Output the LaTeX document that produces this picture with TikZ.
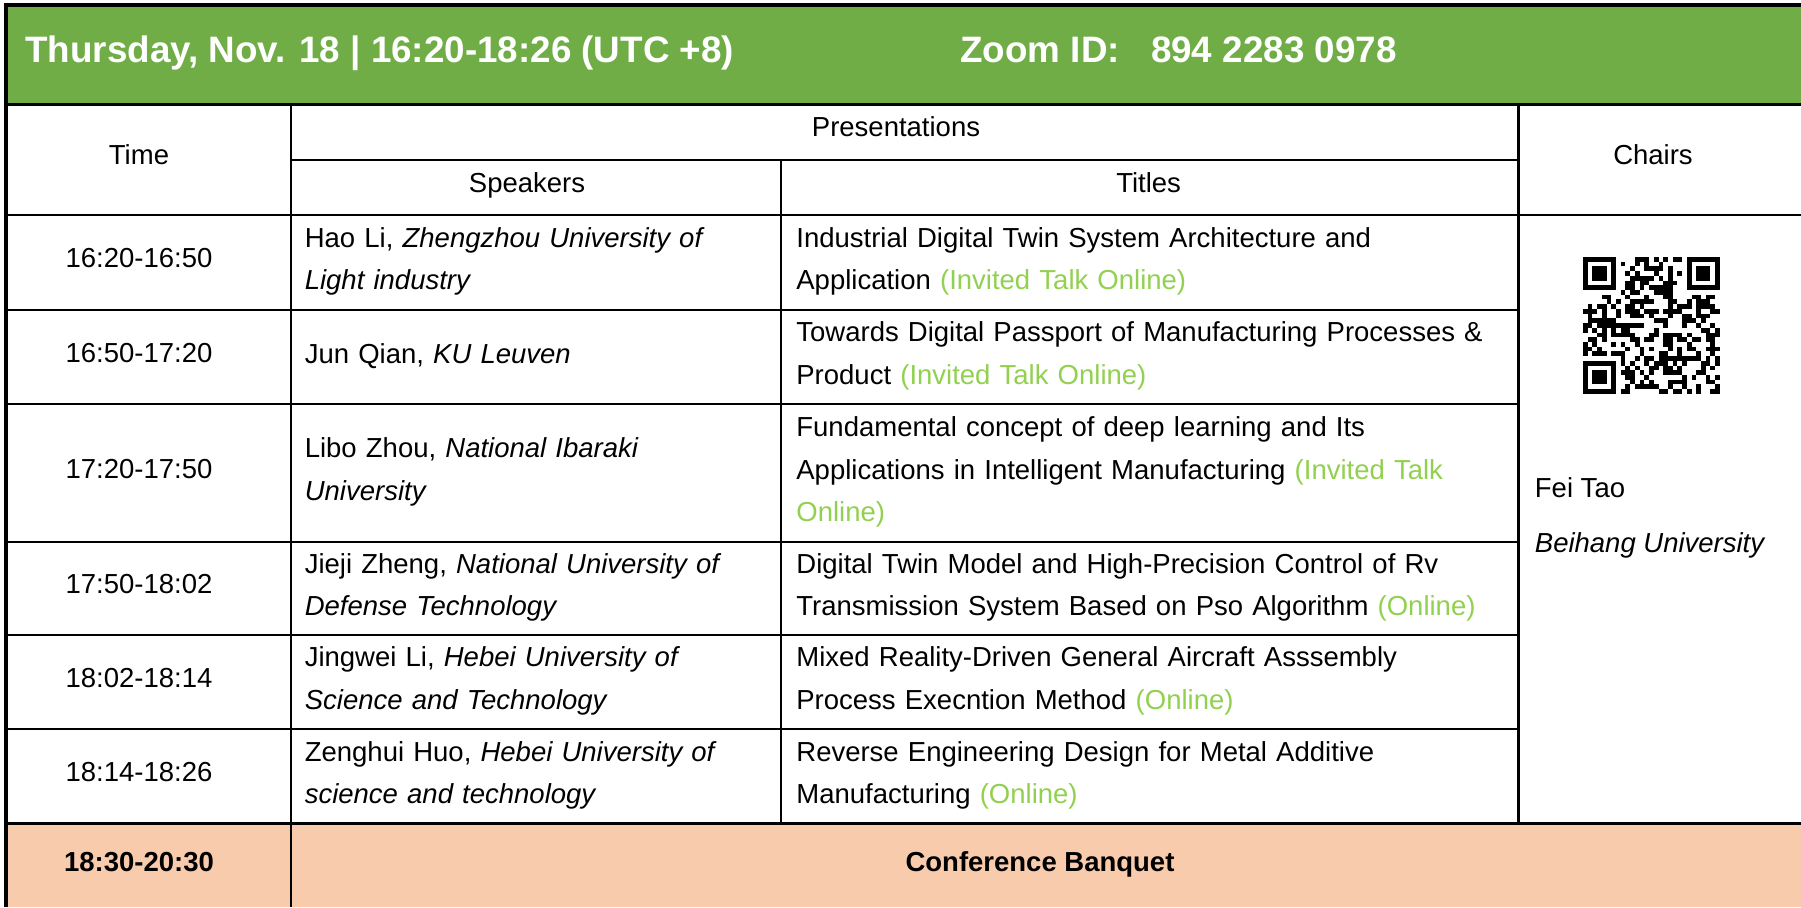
\documentclass[tikz,border=0pt]{standalone}
\usepackage{fontspec}
\setmainfont{Liberation Sans}
\usepackage{xcolor}
\usepackage{tikz}
\usetikzlibrary{positioning, calc}
\definecolor{headgreen}{HTML}{70AD47}
\definecolor{banquet}{HTML}{F8CBAD}
\definecolor{onlinegreen}{HTML}{92D050}
\newcommand{\cellfont}{\fontsize{13.75}{21.25}\selectfont}
\newcommand{\headfont}{\fontsize{18.4}{22}\selectfont\bfseries}
\newcommand{\onl}[1]{\textcolor{onlinegreen}{#1}}
\tikzset{tableframe/.style={line width=1.6pt}}
\tikzset{tablerule/.style={line width=1.1pt}}
\tikzset{cell/.style={font=\cellfont, inner sep=0pt}}
\tikzset{slot/.style={cell, anchor=base}}
\tikzset{speaker/.style={cell, anchor=base west, align=left, text width=235pt}}
\tikzset{talk/.style={cell, anchor=base west, align=left, text width=360pt}}
\tikzset{banner/.style={font=\headfont, text=white, inner sep=0pt, anchor=base west}}

\begin{document}
\begin{tikzpicture}[x=0.5pt, y=-0.5pt]
  \useasboundingbox (0,0) rectangle (1801,907);
  % Fills
  \fill[headgreen] (6,5) rectangle (1801,104.5);
  \fill[banquet] (6,823.5) rectangle (1801,907);
  % Rules
  \draw[tablerule] (290.6,159.7) -- (1518.5,159.7);
  \draw[tablerule] (6,215) -- (1801,215);
  \foreach \y in {310,404,542,635,729}
    \draw[tablerule] (6,\y) -- (1518.5,\y);
  \draw[tablerule] (6,823.5) -- (1801,823.5);
  \draw[tablerule] (290.6,104.5) -- (290.6,907);
  \draw[tablerule] (781,159.7) -- (781,823.5);
  \draw[tablerule] (1518.5,104.5) -- (1518.5,823.5);
  \draw[tableframe] (6,907) -- (6,5) -- (1801,5);
  \draw[tableframe] (6,104.5) -- (1801,104.5);

  % Header
  \node[banner] (day) at (25,62.5) {Thursday, Nov. 18 | 16:20-18:26 (UTC +8)};
  \node[banner] (zoom) at (960,62.5) {Zoom ID: \hspace{0.57em}894 2283 0978};
  \node[slot] (time) at (139,164) {Time};
  \node[slot] (pres) at (896,136) {Presentations};
  \node[slot] (spk) at (527,192.5) {Speakers};
  \node[slot] (ttl) at (1148.6,192.5) {Titles};
  \node[slot] (chair) at (1653,164) {Chairs};

  % Times
  \node[slot] (t1) at (139,267.5) {16:20-16:50};
  \node[slot] (t2) at (139,362) {16:50-17:20};
  \node[slot] (t3) at (139,478) {17:20-17:50};
  \node[slot] (t4) at (139,593.5) {17:50-18:02};
  \node[slot] (t5) at (139,687) {18:02-18:14};
  \node[slot] (t6) at (139,781.25) {18:14-18:26};

  % Speakers
  \node[speaker] (s1) at (304.4,247.25) {Hao Li, \textit{Zhengzhou University of}\\\textit{Light industry}};
  \node[speaker] (s2) at (304.4,363) {Jun Qian, \textit{KU Leuven}};
  \node[speaker] (s3) at (304.4,457.75) {Libo Zhou, \textit{National Ibaraki}\\\textit{University}};
  \node[speaker] (s4) at (304.4,573.25) {Jieji Zheng, \textit{National University of}\\\textit{Defense Technology}};
  \node[speaker] (s5) at (304.4,666.75) {Jingwei Li, \textit{Hebei University of}\\\textit{Science and Technology}};
  \node[speaker] (s6) at (304.4,761) {Zenghui Huo, \textit{Hebei University of}\\\textit{science and technology}};

  % Titles
  \node[talk] (p1) at (796,247.25) {Industrial Digital Twin System Architecture and\\Application \onl{(Invited Talk Online)}};
  \node[talk] (p2) at (796,341.75) {Towards Digital Passport of Manufacturing Processes \&\\Product \onl{(Invited Talk Online)}};
  \node[talk] (p3) at (796,436.5) {Fundamental concept of deep learning and Its\\Applications in Intelligent Manufacturing \onl{(Invited Talk}\\\onl{Online)}};
  \node[talk] (p4) at (796,573.25) {Digital Twin Model and High-Precision Control of Rv\\Transmission System Based on Pso Algorithm \onl{(Online)}};
  \node[talk] (p5) at (796,666.75) {Mixed Reality-Driven General Aircraft Asssembly\\Process Execntion Method \onl{(Online)}};
  \node[talk] (p6) at (796,761) {Reverse Engineering Design for Metal Additive\\Manufacturing \onl{(Online)}};

  % Chair
  \begin{scope}[shift={(1583,257)}]
    \pgfmathsetseed{2021}
    \foreach \i in {0,...,28} {
      \foreach \j in {0,...,28} {
        \pgfmathrandominteger{\bit}{0}{9}
        \pgfmathtruncatemacro{\keep}{((\i<8 && \j<8) || (\i>20 && \j<8) || (\i<8 && \j>20)) ? 0 : (\bit<5 ? 1 : 0)}
        \ifnum\keep=1
          \fill[black] (\i*4.72,\j*4.72) rectangle ++(4.72,4.72);
        \fi
      }
    }
    \foreach \cx/\cy in {0/0, 22/0, 0/22} {
      \fill[black] (\cx*4.72,\cy*4.72) rectangle ++(7*4.72,7*4.72);
      \fill[white] (\cx*4.72+4.72,\cy*4.72+4.72) rectangle ++(5*4.72,5*4.72);
      \fill[black] (\cx*4.72+9.44,\cy*4.72+9.44) rectangle ++(3*4.72,3*4.72);
    }
  \end{scope}
  \node[cell, anchor=base west] (fei) at (1534.5,497) {Fei Tao};
  \node[cell, anchor=base west] (uni) at (1534.5,552) {\textit{Beihang University}};

  % Banquet
  \node[slot, font=\cellfont\bfseries] (t7) at (139,871.5) {18:30-20:30};
  \node[slot, font=\cellfont\bfseries] (bq) at (1040,871.5) {Conference Banquet};
\end{tikzpicture}
\end{document}
